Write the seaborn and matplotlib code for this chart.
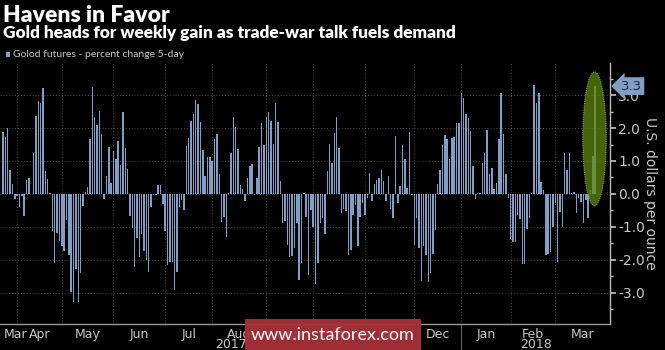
import numpy as np
import pandas as pd
import matplotlib
matplotlib.use("Agg")
import matplotlib.pyplot as plt
import seaborn as sns
from matplotlib.patches import Ellipse, Rectangle

# ---------------- data ----------------
values = [
    1.87, 1.74, 1.99, 0.73, 0.30, -0.16, -0.05, -0.38, -0.05, -0.67, 0.42, 0.47, 0.0, 1.25, 2.36, 2.82,
    2.75, 3.21, 0.71, 0.45, 0.02, -1.11, -2.08, -1.19, -1.41, -1.57, -1.73, -0.79, -1.85, -2.96, -3.26,
    -2.27, -3.26, -2.38, -0.36, 0.05, 0.22,
    1.66, 3.23, 2.32, 2.09, 2.53, 1.81, -0.16, 0.55, 1.41, 0.32, 1.30, 1.06, 1.62, 0.88, 2.49, 1.38,
    0.75, -0.67, -1.04, -2.22, -1.34, -1.92, -1.21, -1.72, -2.0, -2.37, -0.40, -0.03, -0.02, 0.26, 0.26,
    -0.30, -1.11, -2.16, -2.05, -2.05, -2.91,
    -2.35, -0.38, -0.18, -0.48, 1.46, 1.69, 2.22, 2.42, 2.85, 2.73, 2.19, 1.33, 0.55, 1.13, 1.11, 1.01,
    1.66, 1.82, 0.61, -0.84, -0.69, -1.31, 0.04, 1.23, 2.32, 2.02, 1.35, 0.27, 0.16, -0.2, 0.47, 0.85,
    0.91, -0.03, 0.47, 1.43, 2.16, 1.48,
    2.32, 2.47, 2.22, 1.52, 2.75, 2.19, 0.39, -0.87, -0.82, -1.55, -1.92, -1.87, -1.65, -0.89, -2.61,
    -2.1, 0.04, -0.69, -2.45, -0.48, -0.99, -2.73, -2.08, -0.89, -0.74, -1.21, 0.71, 1.51, 0.93, 1.84,
    2.32, 1.40, -0.59, -0.46, -0.51, -1.85, -1.70, -0.64,
    -0.33, -1.58, -0.69, -0.26, -0.64, -0.13, 0.65, -0.2, 0.30, 0.42, 0.49, 0.73, 0.39, -0.2, 0.55,
    -0.46, -0.72, 1.76, -0.28, 0.24, 1.48, 1.05, 0.17, 1.87, -0.03, -1.55, -0.74, -1.65, -2.64, -1.57,
    -1.85, -2.66, -2.40, -1.82, -1.09, 0.30, 0.73,
    1.48, 1.79, 1.67, 1.06, 1.69, 1.74, 2.16, 2.16, 3.05, 2.90, 2.41, 2.31, 1.92, 0.85, -0.16, 0.04,
    0.04, 0.95, 1.25, 1.94, 0.6, 0.78, 0.15, 0.34, 1.66, 3.07, 1.81, 0.61, -0.13, -1.37, -1.46, -1.46,
    -0.64, -0.77, -2.13, -2.13, -1.07, -0.74,
    0.02, 3.30, 2.75, 3.07, 0.37, 0.12, -1.85, -1.82, -1.75, -0.99, -0.28, -2.05, -0.55, -0.99, 1.25,
    0.73, 1.25, 0.02, 0.07, -0.59, -0.13, -0.23, -0.89, -0.18, -0.74, 0.12, 1.15, 3.27,
]
month_labels = ["Mar", "Apr", "May", "Jun", "Jul", "Aug", "Sep", "Oct", "Nov", "Dec", "Jan", "Feb", "Mar"]
month_starts = [6, 25, 47, 69, 89, 112, 132, 154, 175, 195, 216, 235]   # bar index of first trading day
year_labels = ["2017", "2018"]
y_ticks = [-3.0, -2.0, -1.0, 0.0, 1.0, 2.0, 3.0]
series_name = "Golod futures - percent change 5-day"
title = "Havens in Favor"
subtitle = "Gold heads for weekly gain as trade-war talk fuels demand"
y_label = "U.S. dollars per ounce"
last_label = "3.3"
watermark = "www.instaforex.com"

# ---------------- style ----------------
BAR = "#819ec4"
BG = "#000000"
GRID = "#4a4a4a"
TXT = "#c8c8c8"

sns.set_theme(style="dark")
plt.rcParams["font.family"] = ["DejaVu Sans"]

W, H = 665, 350
fig = plt.figure(figsize=(W / 100, H / 100), dpi=100, facecolor=BG)
ax = fig.add_axes([0.0, 26 / H, 610 / W, (324 - 63) / H])
ax.set_facecolor(BG)

df = pd.DataFrame({"idx": np.arange(len(values)), "val": values})
sns.barplot(data=df, x="idx", y="val", color=BAR, saturation=1, width=0.62,
            linewidth=0, native_scale=True, ax=ax, zorder=2)

ax.set_xlim(-1.3, 258.3)
ax.set_ylim(-3.94, 3.97)
ax.set_xlabel("")
ax.set_ylabel("")

# x ticks: month boundaries as major (gridlines), month labels as minor
bounds = [-1.3] + month_starts + [258.3]
mids = [(bounds[i] + bounds[i + 1]) / 2 for i in range(len(bounds) - 1)]
mids[0] = month_starts[0] - 0.5
ax.set_xticks(month_starts)
ax.set_xticklabels([])
ax.set_xticks(mids, minor=True)
ax.set_xticklabels(month_labels, minor=True)
ax.tick_params(axis="x", which="major", length=3, color="#999999", direction="out")
ax.tick_params(axis="x", which="minor", length=0, pad=3, labelsize=9, labelcolor=TXT)

# y axis on right
ax.yaxis.tick_right()
ax.set_yticks(y_ticks)
ax.set_yticklabels([f"{v:.1f}" for v in y_ticks])
ax.set_yticks(np.arange(-3.5, 4.0, 0.5), minor=True)
ax.tick_params(axis="y", which="major", length=4, color="#bbbbbb", labelsize=10,
               labelcolor=TXT, pad=2, right=True, left=False)
ax.tick_params(axis="y", which="minor", length=2, color="#bbbbbb", right=True, left=False)

ax.grid(True, which="major", axis="both", color=GRID, linestyle=(0, (1, 2)), linewidth=0.7)
ax.set_axisbelow(True)

for side in ["top", "left"]:
    ax.spines[side].set_visible(False)
ax.spines["right"].set_color("#bbbbbb")
ax.spines["bottom"].set_color("#999999")
ax.spines["right"].set_linewidth(1.0)
ax.spines["bottom"].set_linewidth(1.0)

ax.text(1.066, 0.5, y_label, transform=ax.transAxes, rotation=270, ha="center", va="center",
        fontsize=10, color=TXT)

# year separator and labels
xt = ax.get_xaxis_transform()
ax.plot([month_starts[9], month_starts[9]], [0, -0.11], transform=xt, color="#666666",
        lw=0.8, clip_on=False)
ax.text((bounds[0] + month_starts[9]) / 2, -0.08, year_labels[0], transform=xt,
        ha="center", va="center", fontsize=9, color=TXT, clip_on=False)
ax.text((month_starts[9] + bounds[-1]) / 2, -0.08, year_labels[1], transform=xt,
        ha="center", va="center", fontsize=9, color=TXT, clip_on=False)

# highlight ellipse around last bars
ax.add_patch(Ellipse((251.7, 1.67), 10.0, 4.06, facecolor="#5f8a10", alpha=0.72,
                     edgecolor="#a8c840", linestyle=(0, (1, 1)), linewidth=0.8, zorder=3))

# last value label
ax.annotate(last_label, xy=(1.0, values[-1]), xycoords=("axes fraction", "data"),
            xytext=(1.035, values[-1]), textcoords=("axes fraction", "data"),
            ha="center", va="center", fontsize=9.5, color="#1c2a40",
            bbox=dict(boxstyle="larrow,pad=0.18", facecolor=BAR, edgecolor="none"),
            annotation_clip=False)

# titles and legend
fig.text(3 / W, 1 - 15 / H, title, ha="left", va="center", fontsize=16.5, weight="heavy",
         color="white", family=["Lato", "DejaVu Sans"])
fig.text(3 / W, 1 - 33 / H, subtitle, ha="left", va="center", fontsize=12.4, weight="heavy",
         color="white", family=["Lato", "DejaVu Sans"])
fig.patches.append(Rectangle((6 / W, 1 - 57 / H), 4 / W, 5 / H, transform=fig.transFigure,
                             facecolor=BAR, edgecolor="none"))
fig.text(13 / W, 1 - 54.5 / H, series_name, ha="left", va="center", fontsize=7.5, color=TXT,
         family=["Lato", "DejaVu Sans"])

# watermark
fig.patches.append(Rectangle((245 / W, 0), 176 / W, 31 / H, transform=fig.transFigure,
                             facecolor="#a8303a", edgecolor="none", alpha=0.95, zorder=10))
fig.text(333 / W, 15 / H, watermark, ha="center", va="center", fontsize=13, color="white",
         zorder=11, family=["Lato", "DejaVu Sans"])

fig.savefig("out.png", dpi=100, facecolor=BG)
